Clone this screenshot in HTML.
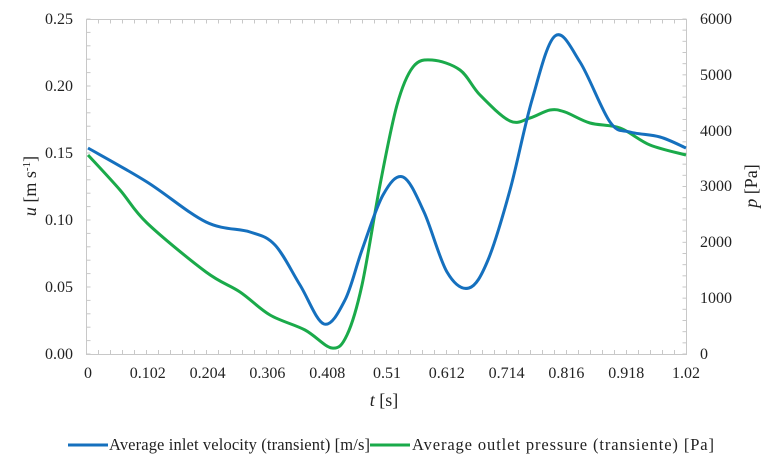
<!DOCTYPE html>
<html><head><meta charset="utf-8"><style>
body{margin:0;background:#fff;}
svg text{font-family:"Liberation Serif",serif;font-size:16px;fill:#222;}
</style></head><body>
<svg id="s" width="769" height="471" xmlns="http://www.w3.org/2000/svg">
<rect x="86.5" y="19.5" width="600" height="335" fill="none" stroke="#c8c8c8" stroke-width="1"/>
<g id="ticks" stroke="#c8c8c8" stroke-width="1"></g>
<g text-anchor="end">
<text x="73" y="359">0.00</text><text x="73" y="292">0.05</text><text x="73" y="225">0.10</text>
<text x="73" y="158">0.15</text><text x="73" y="91">0.20</text><text x="73" y="24">0.25</text>
</g>
<g text-anchor="start">
<text x="700" y="359">0</text><text x="700" y="303">1000</text><text x="700" y="247">2000</text>
<text x="700" y="191">3000</text><text x="700" y="136">4000</text><text x="700" y="80">5000</text><text x="700" y="24">6000</text>
</g>
<g text-anchor="middle" id="xl"></g>
<text x="384" y="406" text-anchor="middle" style="font-size:18px"><tspan font-style="italic">t</tspan> [s]</text>
<text transform="translate(36,186) rotate(-90)" text-anchor="middle" style="font-size:18px"><tspan font-style="italic">u</tspan> [m s<tspan dy="-6" style="font-size:11px">-1</tspan><tspan dy="6">]</tspan></text>
<text transform="translate(757,186) rotate(-90)" text-anchor="middle" style="font-size:18px"><tspan font-style="italic">p</tspan> [Pa]</text>
<path id="g" fill="none" stroke="#1aaa4a" stroke-width="3"/>
<path id="b" fill="none" stroke="#1570be" stroke-width="3"/>
<line x1="68" y1="445" x2="108" y2="445" stroke="#1570be" stroke-width="3"/>
<text x="109" y="450" textLength="261" style="font-size:16.5px">Average inlet velocity (transient) [m/s]</text>
<line x1="370" y1="445" x2="410" y2="445" stroke="#1aaa4a" stroke-width="3"/>
<text x="412" y="450" textLength="302" style="font-size:16.5px">Average outlet pressure (transiente) [Pa]</text>
</svg>
<script>
var t=document.getElementById("ticks"),h="";
for(var i=0;i<=25;i++){var y=354-i*13.4;h+='<line x1="86.5" x2="90.5" y1="'+y+'" y2="'+y+'"/>';}
for(var i=0;i<=30;i++){var y=354-i*11.167;h+='<line x1="682.5" x2="686.5" y1="'+y+'" y2="'+y+'"/>';}
for(var i=0;i<=50;i++){var x=86.5+i*12;h+='<line y1="354" y2="350" x1="'+x+'" x2="'+x+'"/><line y1="19.5" y2="23.5" x1="'+x+'" x2="'+x+'"/>';}
t.innerHTML=h;
var L=["0","0.102","0.204","0.306","0.408","0.51","0.612","0.714","0.816","0.918","1.02"],xs="";
for(var i=0;i<11;i++){xs+='<text x="'+(88+i*59.8)+'" y="378">'+L[i]+'</text>';}
document.getElementById("xl").innerHTML=xs;
function cr(p){var d="M"+p[0][0]+","+p[0][1];for(var i=0;i<p.length-1;i++){var a=p[i-1]||p[i],b=p[i],c=p[i+1],e=p[i+2]||c;
d+="C"+(b[0]+(c[0]-a[0])/6)+","+(b[1]+(c[1]-a[1])/6)+" "+(c[0]-(e[0]-b[0])/6)+","+(c[1]-(e[1]-b[1])/6)+" "+c[0]+","+c[1];}return d;}
document.getElementById("b").setAttribute("d",cr([[88,148],[147,182],[206,222],[250,232],[275,245],[300,285],[324,324],[345,300],[362,250],[383,195],[403,177],[424,212],[447,272],[469,288],[488,260],[510,190],[532,100],[555,36],[580,62],[610,122],[630,132],[660,137],[686,148]]));
document.getElementById("g").setAttribute("d",cr([[88,155],[120,190],[147,223],[206,272],[240,292],[270,315],[305,330],[332,348],[347,335],[362,285],[380,185],[397,105],[413,67],[432,60],[460,70],[480,95],[510,121],[530,118],[550,110],[565,112],[590,123],[620,128],[650,145],[686,155]]));
</script>
</body></html>
